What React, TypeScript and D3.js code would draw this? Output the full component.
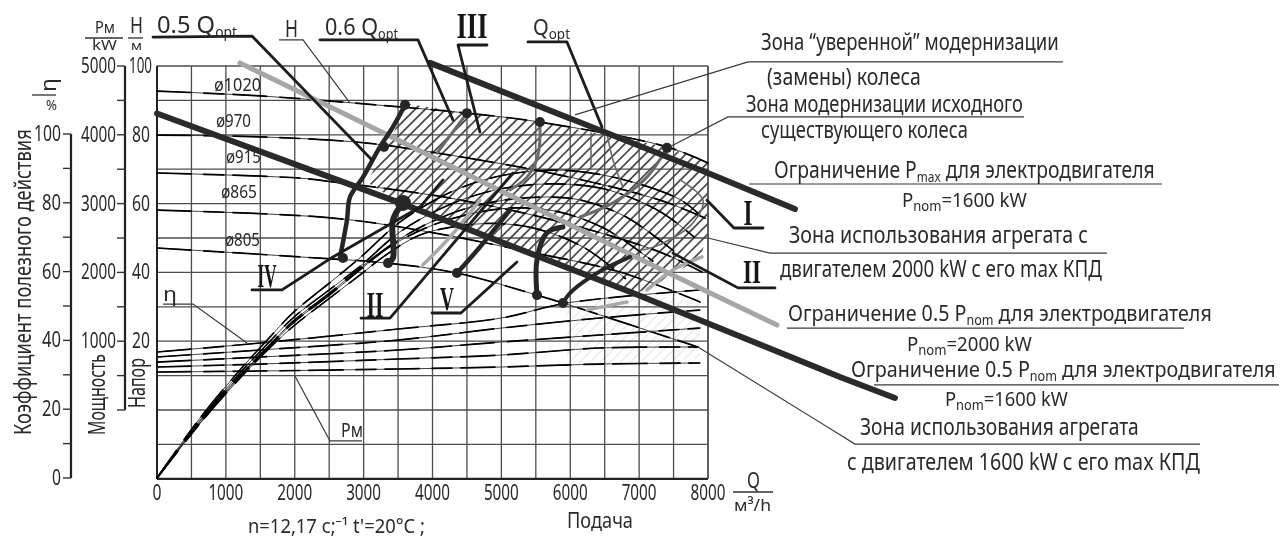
import React, { useLayoutEffect, useRef } from "react";
import * as d3 from "d3";

type Pt = [number, number];

// ---------- axes ----------
const flowTicks = [0, 1000, 2000, 3000, 4000, 5000, 6000, 7000, 8000];
const flowGrid = [0, 500, 1000, 1500, 2000, 2500, 3000, 3500, 4000, 4500, 5000, 5500, 6000, 6500, 7000, 7500, 8000];
const headGrid = [100, 90, 80, 70, 60, 50, 40, 30, 20, 10, 0, -10, -20];
const headTicks = [100, 80, 60, 40, 20];
const headMinor = [100, 90, 80, 70, 60, 50, 40, 30, 20, 10, 0];
const powerTicks = [5000, 4000, 3000, 2000, 1000];
const effTicks = [100, 80, 60, 40, 20, 0];
const effMinor = [100, 90, 80, 70, 60, 50, 40, 30, 20, 10, 0];

// ---------- head curves H(Q), impeller diameters ----------
const headD1020: Pt[] = [[0, 92.7], [1495, 91.3], [3528, 88.1], [4500, 86.3], [5560, 83.7], [7404, 76.5], [8000, 71.8]];
const headD970: Pt[] = [[0, 79.9], [1495, 79.4], [3049, 77.6], [4254, 74.1], [5851, 68.3], [7303, 61], [7956, 55.8]];
const headD915: Pt[] = [[0, 68.9], [2076, 67.4], [2555, 66.3], [4254, 61.6], [5851, 54.7], [7303, 45.9], [7912, 40.1]];
const headD865: Pt[] = [[0, 58.1], [2555, 55.8], [3963, 51.7], [5270, 46.5], [6722, 40.1], [7883, 31.4]];
const headD805: Pt[] = [[0, 47.1], [2076, 44.5], [3339, 42.7], [4355, 39.8], [5517, 33.4], [5894, 31.1], [7854, 18.3]];
const diameterLabels = ["ø1020", "ø970", "ø915", "ø865", "ø805"];

// ---------- efficiency curves eta(Q) ----------
const eff1: Pt[] = [[0, 0], [624, 17.4], [1204, 31.4], [1596, 40], [1973, 48], [2554, 57.5], [2946, 64], [3526, 74.4], [4251, 83], [4977, 87.8], [5848, 89.5], [6718, 87], [7589, 81], [7879, 76.5]];
const eff2: Pt[] = [[0, 0], [624, 16.8], [1204, 30.5], [1596, 38.8], [1973, 46.5], [2554, 55.5], [2946, 61.5], [3526, 71.5], [4251, 79.5], [4977, 84], [5700, 85.5], [6500, 84], [7300, 77.5], [7800, 70]];
const eff3: Pt[] = [[0, 0], [624, 16.4], [1204, 29.8], [1596, 37.8], [1973, 45.5], [2554, 54.5], [2946, 61], [3526, 69.5], [4100, 75.5], [4700, 79.5], [5400, 81.5], [6100, 81], [6800, 76], [7500, 66]];
const eff4: Pt[] = [[0, 0], [624, 16], [1204, 29.5], [1596, 37.5], [1973, 45], [2554, 54], [2946, 60.5], [3400, 67.5], [4000, 73.5], [4600, 77], [5200, 78.5], [5800, 77.5], [6500, 72.5], [7200, 63]];
const eff5: Pt[] = [[0, 0], [624, 15.8], [1204, 29], [1596, 37], [1973, 44], [2554, 53], [2946, 59], [3300, 64.5], [3800, 70.5], [4300, 73], [4900, 74], [5500, 72.5], [6200, 67], [6800, 58]];

// ---------- power curves P(Q) ----------
const pow1: Pt[] = [[0, 843], [1500, 974], [3500, 1177], [5000, 1337], [5950, 1555], [7880, 1744]];
const pow2: Pt[] = [[0, 770], [1500, 872], [3500, 1017], [5000, 1191], [6430, 1337], [7880, 1453]];
const pow3: Pt[] = [[0, 697], [1500, 770], [3500, 872], [5000, 988], [6430, 1090], [7880, 1191]];
const pow4: Pt[] = [[0, 625], [1500, 668], [3500, 741], [5000, 799], [6430, 901], [7850, 915]];
const pow5: Pt[] = [[0, 552], [1500, 567], [3500, 596], [5000, 625], [6430, 668], [7880, 683]];

// ---------- limit lines (Q, H) ----------
const limitPmax1600: Pt[] = [[3963, 100.9], [7999, 68.9], [9262, 58.4]];
const limitHalf2000: Pt[] = [[1205, 100.9], [3528, 78.2], [5023, 63.4], [7491, 39.2], [9001, 24.7]];
const limitHalf1600: Pt[] = [[0, 86.2], [3528, 60.2], [6911, 34], [9916, 9.6], [10714, 3.5]];

// ---------- iso-flow / zone boundary curves (Q, H) ----------
const isoA: Pt[] = [[3601, 88.7], [3426, 82.3], [3238, 76.5], [2991, 67.7], [2802, 61.9], [2758, 55.2], [2656, 44.2]];
const isoBUpper: Pt[] = [[4500, 86.3], [4065, 74.7]];
const isoBLower: Pt[] = [[3571, 60.2], [3426, 55.2], [3426, 44.2], [3354, 42.7]];
const isoCUpper: Pt[] = [[5560, 83.7], [5531, 74.1], [5372, 67.7], [5125, 64]];
const isoCLower: Pt[] = [[5894, 53.2], [5662, 51.5], [5517, 43.6], [5517, 33.4]];
const isoD: Pt[] = [[4355, 39.8], [4689, 47.4], [5125, 58.1]];
const isoEUpper: Pt[] = [[7404, 76.2], [7114, 67.7], [6620, 60.2], [6141, 56.1]];
const isoFLower: Pt[] = [[6867, 44.5], [6388, 39.8], [5996, 34], [5894, 31.1]];
const arcInner: Pt[] = [[7593, 66.9], [7927, 61], [7782, 54.4], [7346, 48.5], [7056, 46.5]];
const arcOuter: Pt[] = [[7912, 44.5], [7491, 40.7], [7114, 34.9]];
const grayFragA: Pt[] = [[3862, 42.2], [4254, 50.3], [4689, 61]];
const grayFragB: Pt[] = [[6243, 29.1], [6823, 31.4]];
const grayFragC: Pt[] = [[6533, 80.5], [6620, 72.7], [6765, 64.8]];
const stub: Pt[] = [[6301, 80.5], [6301, 70.6]];
const nodes: Pt[] = [[3296, 76.5], [2700, 44.2], [3354, 42.7], [4500, 86.3], [5560, 83.7], [5517, 33.4], [4355, 39.8], [7404, 76.2], [5894, 31.1], [3601, 88.7]];
const hubs: Pt[] = [[3571, 60.2]];

// ---------- hatched zones (Q, H) ----------
const zoneHatch: Pt[] = [[3601, 89.2], [4500, 86.3], [5560, 83.7], [7404, 76.5], [7999, 71.8], [7999, 50.9], [7883, 44.2], [7114, 34.9], [6911, 34], [4980, 49.4], [3528, 60.2], [3049, 66.3], [3281, 74.7], [3426, 80]];
const zoneFaint: Pt[] = [[5952, 31], [7012, 33.4], [7883, 32], [7883, 15], [5952, 13]];

// ---------- leaders (Q, H) ----------
const leadI: Pt[] = [[7985, 61], [8377, 52.9], [8798, 52.9]];
const leadII: Pt[] = [[7491, 45.6], [8435, 35.5], [8972, 35.5]];
const leadIII: Pt[] = [[4689, 80.8], [4370, 106.1], [4791, 106.1]];
const leadQopt: Pt[] = [[6460, 82.3], [5952, 107], [5386, 107]];
const lead06: Pt[] = [[4297, 84.3], [3789, 107.6], [2366, 107.6]];
const lead05: Pt[] = [[-58, 108.4], [1379, 108.7], [3121, 72.7]];
const leadIV: Pt[] = [[1379, 34.9], [1815, 34.9], [2555, 44.5], [3818, 59], [4152, 66.9]];
const leadIIb: Pt[] = [[2962, 26.7], [3383, 26.7], [5168, 68.9]];
const leadV: Pt[] = [[3992, 28.2], [4413, 28.2], [5226, 43]];
const thinH: Pt[] = [[1771, 107.6], [2120, 107.6], [2802, 89.2]];
const thinEta: Pt[] = [[87, 30.8], [523, 30.8], [1307, 19.5]];
const thinPm: Pt[] = [[2976, -9], [2512, -9], [2003, 9.9]];
const thinZone1: Pt[] = [[6068, 85.8], [8580, 101.2], [13153, 101.2]];
const thinZone2: Pt[] = [[7448, 76.5], [8290, 85.2], [12587, 85.2]];
const thinPmax: Pt[] = [[8595, 65.7], [14591, 65.7]];
const thinZone2000: Pt[] = [[7999, 50], [8900, 45.6], [13792, 45.6]];
const thinHalf2000: Pt[] = [[9146, 23.8], [14910, 23.8]];
const thinHalf1600: Pt[] = [[10410, 7.3], [16289, 7.3]];
const thinZone1600: Pt[] = [[7854, 18.3], [10134, -9.9], [15143, -9.9]];

// ---------- scales ----------
const x = d3.scaleLinear().domain([0, 8000]).range([157, 708]);
const yH = d3.scaleLinear().domain([0, 100]).range([410, 66]);
const yP = d3.scaleLinear().domain([0, 5000]).range([410, 66]);
const yE = d3.scaleLinear().domain([0, 100]).range([478, 134]);

const smoothH = d3.line<Pt>().x(d => x(d[0])).y(d => yH(d[1])).curve(d3.curveCatmullRom);
const smoothP = d3.line<Pt>().x(d => x(d[0])).y(d => yP(d[1])).curve(d3.curveCatmullRom);
const smoothE = d3.line<Pt>().x(d => x(d[0])).y(d => yE(d[1])).curve(d3.curveCatmullRom);
const straight = d3.line<Pt>().x(d => x(d[0])).y(d => yH(d[1]));

const FONT = "'Noto Sans', 'Liberation Sans', sans-serif";
const INK = "#2a2a2a";

// Real text squeezed horizontally to the measured width seen in the picture.
function T({ x: tx, y, w, size = 23, rot = 0, family = FONT, weight, fill = INK, children }: any) {
  const ref = useRef<SVGTextElement>(null);
  useLayoutEffect(() => {
    const el = ref.current!;
    const n = el.getComputedTextLength();
    el.setAttribute("transform", `translate(${tx} ${y}) rotate(${rot}) scale(${w / n} 1)`);
  });
  return (
    <text ref={ref} transform={`translate(${tx} ${y}) rotate(${rot})`} fontFamily={family} fontSize={size}
      fontWeight={weight} fill={fill}>{children}</text>
  );
}

const Lo = ({ children }: any) => <tspan fontSize={14} dy={4}>{children}</tspan>;
const Hi = ({ children }: any) => <tspan dy={-4}>{children}</tspan>;

function Roman({ x: tx, y, s, w, size = 35 }: any) {
  return <T x={tx - w / 2} y={y} w={w} size={size} family="'Liberation Serif', serif" weight="bold" fill="#161616">{s}</T>;
}

function Broken({ d }: { d: string }) {
  return (
    <g fill="none" strokeLinecap="round">
      <path d={d} stroke={INK} strokeWidth={0.9} />
      <path d={d} stroke="#000" strokeWidth={1.7} strokeDasharray="34 13 20 9" />
    </g>
  );
}

export default function App() {
  const headCurves = [headD1020, headD970, headD915, headD865, headD805];
  const effCurves = [eff1, eff2, eff3, eff4, eff5];
  const powCurves = [pow1, pow2, pow3, pow4, pow5];
  const diamPos = [[214, 91, 47], [216, 127, 35], [226, 163, 35], [221, 198, 36], [225, 246, 35]];
  const thinLines = [thinH, thinEta, thinPm, thinZone1, thinZone2, thinPmax, thinZone2000, thinHalf2000, thinHalf1600, thinZone1600];
  const heavyLeaders = [leadI, leadII, leadIII, leadQopt, lead06, lead05, leadIV, leadIIb, leadV];
  return (
    <svg width={1280} height={537} viewBox="0 0 1280 537" style={{ position: "absolute", left: 0, top: 0, background: "#fff" }}>
      <defs>
        <filter id="soft" x="0" y="0" width="1280" height="537" filterUnits="userSpaceOnUse">
          <feGaussianBlur stdDeviation="0.5" />
        </filter>
        <pattern id="hatch" width="7.2" height="7.2" patternUnits="userSpaceOnUse" patternTransform="rotate(45)">
          <line x1="3.6" y1="0" x2="3.6" y2="7.2" stroke="#454545" strokeWidth="1.7" />
        </pattern>
      </defs>
      <g filter="url(#soft)">
        {/* grid */}
        <g stroke="#4d4d4d" strokeWidth={1.3}>
          {flowGrid.map(v => <line key={v} x1={x(v)} x2={x(v)} y1={yH(100)} y2={yH(-20)} />)}
          {headGrid.map(v => <line key={v} x1={x(0)} x2={x(8000)} y1={yH(v)} y2={yH(v)} />)}
        </g>
        <line x1={x(0)} x2={x(0)} y1={yH(100)} y2={yH(-20)} stroke="#222" strokeWidth={2} />
        <line x1={x(0)} x2={x(8000)} y1={yH(-20)} y2={yH(-20)} stroke="#222" strokeWidth={2.2} />
        <line x1={x(8000)} x2={x(8000)} y1={yH(100)} y2={yH(-20)} stroke="#555" strokeWidth={1.6} />

        {/* zones */}
        <path d={straight(zoneFaint) + "Z"} fill="url(#hatch)" opacity={0.1} />
        <path d={straight(zoneHatch) + "Z"} fill="url(#hatch)" />

        {/* curves */}
        {headCurves.map((c, i) => <Broken key={i} d={smoothH(c)!} />)}
        {powCurves.map((c, i) => <Broken key={i} d={smoothP(c)!} />)}
        {effCurves.map((c, i) => <Broken key={i} d={smoothE(c)!} />)}

        {/* gray strokes */}
        <g fill="none" stroke="#a9a9a9" strokeLinecap="round">
          {[grayFragA, grayFragB, arcOuter].map((c, i) => <path key={i} d={smoothH(c)!} strokeWidth={3.5} />)}
        </g>
        <g fill="none" stroke="#6a6a6a" strokeLinecap="round">
          {[isoBUpper, isoCUpper, isoEUpper].map((c, i) => <path key={i} d={smoothH(c)!} strokeWidth={3} />)}
          {[arcInner, grayFragC, stub].map((c, i) => <path key={i} d={smoothH(c)!} strokeWidth={1.6} />)}
        </g>

        {/* limit lines */}
        <path d={straight(limitHalf2000)!} fill="none" stroke="#a6a6a6" strokeWidth={5} strokeLinecap="round" />
        <path d={straight(limitPmax1600)!} fill="none" stroke="#2b2b2b" strokeWidth={6} strokeLinecap="round" />
        <path d={straight(limitHalf1600)!} fill="none" stroke="#2b2b2b" strokeWidth={6} strokeLinecap="round" />

        {/* dark iso curves */}
        <g fill="none" stroke="#262626" strokeLinecap="round" strokeLinejoin="round">
          <path d={smoothH(isoA)!} strokeWidth={4.5} />
          <path d={smoothH(isoBLower)!} strokeWidth={6} />
          <path d={smoothH(isoCLower)!} strokeWidth={5} />
          <path d={smoothH(isoD)!} strokeWidth={4.5} />
          <path d={smoothH(isoFLower)!} strokeWidth={4} />
        </g>
        {nodes.map((n, i) => <circle key={i} cx={x(n[0])} cy={yH(n[1])} r={5} fill="#262626" />)}
        {hubs.map((n, i) => <circle key={i} cx={x(n[0])} cy={yH(n[1])} r={8} fill="#262626" />)}

        {/* leaders */}
        <g fill="none" stroke="#1c1c1c" strokeWidth={2.8} strokeLinecap="round" strokeLinejoin="round">
          {heavyLeaders.map((c, i) => <path key={i} d={straight(c)!} />)}
        </g>
        <g fill="none" stroke="#3a3a3a" strokeWidth={1.2}>
          {thinLines.map((c, i) => <path key={i} d={straight(c)!} />)}
        </g>

        {/* left axes */}
        <line x1={71} x2={71} y1={yE(100)} y2={yE(0)} stroke="#222" strokeWidth={2.2} />
        {effMinor.map(v => <line key={v} x1={63} x2={71} y1={yE(v)} y2={yE(v)} stroke="#333" strokeWidth={1.4} />)}
        {effTicks.map(v => {
          const w = v === 100 ? 27 : v === 0 ? 9 : 19;
          return <T key={v} x={61 - w} y={yE(v) + 7} w={w} size={21}>{String(v)}</T>;
        })}
        <line x1={125} x2={125} y1={yP(5000)} y2={yP(0)} stroke="#222" strokeWidth={2.2} />
        {headMinor.map(v => <line key={v} x1={117} x2={125} y1={yH(v)} y2={yH(v)} stroke="#333" strokeWidth={1.4} />)}
        {powerTicks.map(v => <T key={v} x={81} y={yP(v) + 7} w={35} size={21}>{String(v)}</T>)}
        {headTicks.map(v => {
          const w = v === 100 ? 23 : 18;
          return <T key={v} x={v === 100 ? 129 : 132} y={yH(v) + 7} w={w} size={21}>{String(v)}</T>;
        })}

        {/* x ticks */}
        {flowTicks.map(v => {
          const w = v === 0 ? 9 : 35;
          return <T key={v} x={x(v) - w / 2} y={500} w={w} size={21}>{String(v)}</T>;
        })}

        {/* curve labels */}
        {diameterLabels.map((s, i) => <T key={s} x={diamPos[i][0]} y={diamPos[i][1]} w={diamPos[i][2]} size={19}>{s}</T>)}

        {/* axis titles */}
        <T x={31} y={435} w={306} rot={-90}>Коэффициент полезного действия</T>
        <T x={105} y={435} w={81} rot={-90}>Мощность</T>
        <T x={145} y={408} w={50} rot={-90}>Напор</T>

        <T x={95} y={33} w={20} size={17}>Pм</T>
        <line x1={85} x2={123} y1={38} y2={38} stroke="#333" strokeWidth={1.3} />
        <T x={92} y={50} w={25} size={14}>kW</T>
        <T x={130} y={33} w={13} size={21}>H</T>
        <line x1={128} x2={143} y1={38} y2={38} stroke="#333" strokeWidth={1.3} />
        <T x={131} y={50} w={11} size={13}>м</T>

        <T x={56} y={92} w={14} size={22} rot={-90}>η</T>
        <line x1={32} x2={56} y1={95} y2={95} stroke="#333" strokeWidth={1.3} />
        <T x={46} y={110} w={11} size={14}>%</T>

        {/* top labels */}
        <T x={157} y={33} w={80} size={24}>0.5 Q<Lo>opt</Lo></T>
        <T x={285} y={37} w={13} size={24}>H</T>
        <T x={325} y={35} w={73} size={24}>0.6 Q<Lo>opt</Lo></T>
        <T x={533} y={35} w={37} size={21}>Q<Lo>opt</Lo></T>
        <T x={163} y={301} w={14} size={20}>η</T>
        <T x={341} y={437} w={22} size={20}>Pм</T>

        <Roman x={472} y={38} s="III" w={31} size={36} />
        <Roman x={748} y={225} s="I" w={9} size={36} />
        <Roman x={752} y={283} s="II" w={18} size={34} />
        <Roman x={267} y={287} s="IV" w={19} size={34} />
        <Roman x={375} y={317} s="II" w={17} size={36} />
        <Roman x={447} y={310} s="V" w={14} size={34} />

        {/* right-hand notes */}
        <T x={761} y={50} w={298}>Зона “уверенной” модернизации</T>
        <T x={767} y={85} w={154}>(замены) колеса</T>
        <T x={746} y={112} w={277}>Зона модернизации исходного</T>
        <T x={761} y={138} w={207}>существующего колеса</T>
        <T x={774} y={178} w={381}>Ограничение P<Lo>max</Lo><Hi> для электродвигателя</Hi></T>
        <T x={902} y={207} w={125} size={20}>P<Lo>nom</Lo><Hi>=1600 kW</Hi></T>
        <T x={789} y={243} w={299}>Зона использования агрегата с</T>
        <T x={780} y={277} w={322}>двигателем 2000 kW с его max КПД</T>
        <T x={788} y={321} w={424} size={22}>Ограничение 0.5 P<Lo>nom</Lo><Hi> для электродвигателя</Hi></T>
        <T x={907} y={351} w={125} size={20}>P<Lo>nom</Lo><Hi>=2000 kW</Hi></T>
        <T x={851} y={377} w={425} size={22}>Ограничение 0.5 P<Lo>nom</Lo><Hi> для электродвигателя</Hi></T>
        <T x={945} y={406} w={123} size={20}>P<Lo>nom</Lo><Hi>=1600 kW</Hi></T>
        <T x={860} y={435} w={279}>Зона использования агрегата</T>
        <T x={847} y={470} w={353}>с двигателем 1600 kW с его max КПД</T>

        {/* bottom */}
        <T x={248} y={533} w={177} size={19}>n=12,17 с;⁻¹ t'=20°C ;</T>
        <T x={567} y={528} w={66} size={22}>Подача</T>
        <T x={747} y={488} w={13} size={21}>Q</T>
        <line x1={733} x2={773} y1={492} y2={492} stroke="#333" strokeWidth={1.4} />
        <T x={734} y={511} w={37} size={17}>м³/h</T>
      </g>
    </svg>
  );
}
